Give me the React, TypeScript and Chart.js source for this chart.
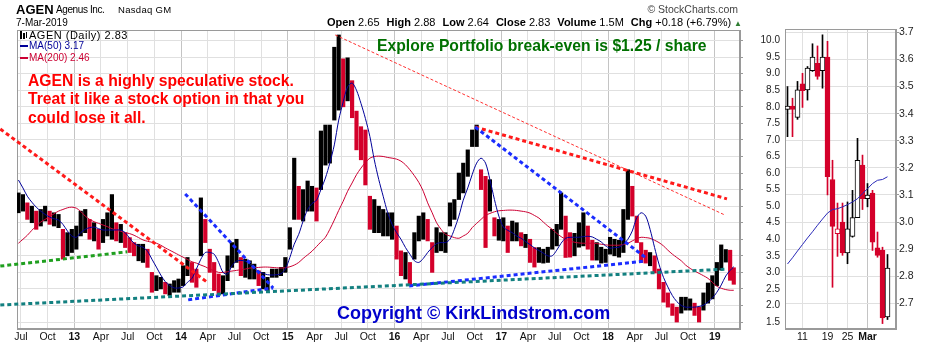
import React, { useEffect, useRef } from "react";
import { Chart, registerables } from "chart.js";
Chart.register(...registerables);

const FONT = "'Liberation Sans', Arial, sans-serif";
const RED = "#d4002a";
const BLACK = "#000000";
const NAVY = "#000099";
const CRIMSON = "#cc0033";

// ---------- main chart data (half-month ranges) ----------
const barDates = [
  "2012-06-23", "2012-07-08", "2012-07-23", "2012-08-08", "2012-08-23", "2012-09-08", "2012-09-23", "2012-10-08", "2012-10-23", "2012-11-08", "2012-11-23", "2012-12-08", "2012-12-23",
  "2013-01-08", "2013-01-23", "2013-02-08", "2013-02-23", "2013-03-08", "2013-03-23", "2013-04-08", "2013-04-23", "2013-05-08", "2013-05-23", "2013-06-08", "2013-06-23",
  "2013-07-08", "2013-07-23", "2013-08-08", "2013-08-23", "2013-09-08", "2013-09-23", "2013-10-08", "2013-10-23", "2013-11-08", "2013-11-23", "2013-12-08", "2013-12-23",
  "2014-01-08", "2014-01-23", "2014-02-08", "2014-02-23", "2014-03-08", "2014-03-23", "2014-04-08", "2014-04-23", "2014-05-08", "2014-05-23", "2014-06-08", "2014-06-23",
  "2014-07-08", "2014-07-23", "2014-08-08", "2014-08-23", "2014-09-08", "2014-09-23", "2014-10-08", "2014-10-23", "2014-11-08", "2014-11-23", "2014-12-08", "2014-12-23",
  "2015-01-08", "2015-01-23", "2015-02-08", "2015-02-23", "2015-03-08", "2015-03-23", "2015-04-08", "2015-04-23", "2015-05-08", "2015-05-23", "2015-06-08", "2015-06-23",
  "2015-07-08", "2015-07-23", "2015-08-08", "2015-08-23", "2015-09-08", "2015-09-23", "2015-10-08", "2015-10-23", "2015-11-08", "2015-11-23", "2015-12-08", "2015-12-23",
  "2016-01-08", "2016-01-23", "2016-02-08", "2016-02-23", "2016-03-08", "2016-03-23", "2016-04-08", "2016-04-23", "2016-05-08", "2016-05-23", "2016-06-08", "2016-06-23",
  "2016-07-08", "2016-07-23", "2016-08-08", "2016-08-23", "2016-09-08", "2016-09-23", "2016-10-08", "2016-10-23", "2016-11-08", "2016-11-23", "2016-12-08", "2016-12-23",
  "2017-01-08", "2017-01-23", "2017-02-08", "2017-02-23", "2017-03-08", "2017-03-23", "2017-04-08", "2017-04-23", "2017-05-08", "2017-05-23", "2017-06-08", "2017-06-23",
  "2017-07-08", "2017-07-23", "2017-08-08", "2017-08-23", "2017-09-08", "2017-09-23", "2017-10-08", "2017-10-23", "2017-11-08", "2017-11-23", "2017-12-08", "2017-12-23",
  "2018-01-08", "2018-01-23", "2018-02-08", "2018-02-23", "2018-03-08", "2018-03-23", "2018-04-08", "2018-04-23", "2018-05-08", "2018-05-23", "2018-06-08", "2018-06-23",
  "2018-07-08", "2018-07-23", "2018-08-08", "2018-08-23", "2018-09-08", "2018-09-23", "2018-10-08", "2018-10-23", "2018-11-08", "2018-11-23", "2018-12-08", "2018-12-23",
  "2019-01-08", "2019-01-23", "2019-02-08", "2019-02-23", "2019-03-05",
];

const barLows = [
  4.8, 4.85, 4.6, 4.5, 4.3, 4.4, 4.55, 4.45, 4.4, 4.35, 3.4, 3.5, 3.6,
  3.7, 4.1, 4.2, 4.0, 3.95, 3.7, 3.9, 4.1, 4.0, 3.95, 3.9, 3.75, 3.6, 3.5, 3.35, 3.3, 3.15, 2.4, 2.45, 2.5, 2.35, 2.3, 2.4, 2.4,
  2.6, 2.9, 2.7, 2.55, 3.5, 3.9, 3.0, 2.45, 2.35, 2.35, 2.75, 3.15, 3.3, 2.9, 2.85, 2.8, 2.8, 2.6, 2.5, 2.45, 2.85, 2.85, 2.9, 3.0,
  3.7, 4.6, 4.6, 4.55, 4.85, 4.85, 4.55, 5.5, 6.24, 6.3, 7.6, 7.9, 8.0, 8.18, 7.67, 6.7, 6.4, 5.64, 4.3, 4.2, 4.2, 4.1, 4.1, 4.0,
  3.4, 2.9, 2.8, 2.62, 3.4, 3.95, 4.0, 3.95, 3.0, 3.6, 3.65, 3.6, 4.4, 4.6, 5.2, 5.4, 5.9, 6.8, 6.8, 5.5, 3.75, 4.85, 4.1, 3.97,
  3.95, 3.6, 3.95, 3.95, 3.8, 3.75, 3.3, 3.16, 3.3, 3.28, 3.3, 3.7, 3.8, 4.3, 3.45, 3.46, 3.5, 3.76, 3.8, 3.7, 3.37, 3.37, 3.28, 3.3,
  3.55, 3.5, 3.46, 3.6, 4.6, 4.7, 3.9, 3.3, 3.28, 3.2, 2.98, 2.5, 2.1, 1.95, 1.7, 1.5, 1.77, 1.86, 1.86, 1.7, 1.5, 1.86, 2.07, 2.2,
  2.6, 3.07, 3.31, 2.76, 2.64,
];

const barHighs = [
  5.4, 5.35, 5.1, 5.0, 4.85, 4.9, 5.0, 4.85, 4.8, 4.75, 4.3, 4.2, 4.3,
  4.4, 4.85, 4.9, 4.6, 4.5, 4.3, 4.6, 4.8, 5.35, 4.5, 4.45, 4.2, 4.05, 3.9, 3.85, 3.85, 3.7, 3.0, 2.9, 2.85, 2.7, 2.65, 2.75, 2.8,
  3.2, 3.45, 3.3, 3.1, 5.25, 4.6, 3.7, 3.3, 2.95, 2.9, 3.5, 3.9, 4.0, 3.45, 3.4, 3.35, 3.25, 3.05, 3.0, 2.85, 3.1, 3.1, 3.15, 3.45,
  4.35, 6.45, 5.6, 5.5, 5.76, 5.6, 5.55, 7.27, 7.45, 7.45, 9.8, 10.17, 9.45, 9.48, 8.79, 7.87, 7.4, 7.3, 5.3, 5.2, 5.0, 4.9, 4.8, 4.8,
  4.4, 3.65, 3.6, 3.3, 4.2, 4.7, 4.8, 4.6, 3.9, 4.35, 4.2, 4.2, 5.1, 5.2, 6.0, 6.3, 6.7, 7.3, 7.45, 6.1, 5.9, 5.8, 4.65, 4.6,
  4.65, 4.4, 4.55, 4.5, 4.2, 4.15, 4.0, 3.75, 3.75, 3.7, 3.76, 4.3, 4.45, 5.4, 4.7, 4.2, 4.18, 4.5, 4.8, 4.4, 3.97, 3.9, 3.76, 3.7,
  4.06, 4.0, 3.97, 4.9, 6.1, 5.6, 4.7, 3.9, 3.67, 3.6, 3.5, 3.1, 2.7, 2.38, 2.05, 1.95, 2.25, 2.25, 2.2, 2.07, 1.95, 2.38, 2.68, 2.9,
  3.3, 3.83, 3.69, 3.67, 3.14,
];

const ma50 = [
  5.79, 5.55, 5.3, 5.12, 4.97, 4.85, 4.75, 4.67, 4.62, 4.58, 4.45, 4.25, 4.1,
  4.06, 4.2, 4.3, 4.35, 4.37, 4.32, 4.28, 4.28, 4.28, 4.28, 4.28, 4.2, 4.03, 3.88, 3.8, 3.76, 3.64, 3.4, 3.16, 2.92, 2.72, 2.6, 2.53, 2.53,
  2.56, 2.7, 2.82, 3.1, 3.4, 3.6, 3.6, 3.55, 3.3, 3.0, 2.95, 3.2, 3.34, 3.36, 3.34, 3.25, 3.12, 3.03, 2.97, 2.93, 2.92, 2.93, 2.96, 3.1,
  3.45, 3.85, 4.15, 4.55, 4.9, 5.08, 5.18, 5.5, 5.85, 6.3, 6.85, 7.6, 8.15, 8.6, 8.72, 8.5, 8.1, 7.65, 7.1, 6.4, 5.8, 5.3, 4.8, 4.45,
  4.2, 4.0, 3.75, 3.55, 3.35, 3.3, 3.42, 3.6, 3.75, 3.87, 3.9, 3.9, 4.0, 4.3, 4.7, 5.18, 5.55, 5.95, 6.3, 6.45, 6.3, 5.8, 5.2, 4.7,
  4.37, 4.27, 4.2, 4.1, 4.03, 3.93, 3.84, 3.74, 3.66, 3.58, 3.5, 3.5, 3.67, 3.88, 4.03, 4.06, 4.06, 4.06, 4.08, 4.09, 4.07, 4.0, 3.92, 3.8,
  3.73, 3.75, 3.76, 3.85, 4.0, 4.25, 4.65, 4.8, 4.7, 4.3, 3.75, 3.25, 2.85, 2.56, 2.3, 2.12, 2.0, 1.95, 1.95, 1.95, 1.97, 2.01, 2.1, 2.22,
  2.4, 2.62, 2.89, 3.06, 3.17,
];

const ma200 = [
  3.88, 4.0, 4.12, 4.27, 4.4, 4.52, 4.6, 4.68, 4.77, 4.85, 4.9, 4.95, 4.97,
  4.94, 4.84, 4.7, 4.6, 4.53, 4.48, 4.43, 4.38, 4.32, 4.28, 4.24, 4.2, 4.17, 4.12, 4.05, 3.98, 3.94, 3.91, 3.88, 3.82, 3.74, 3.67, 3.6, 3.53,
  3.46, 3.39, 3.32, 3.28, 3.22, 3.17, 3.1, 3.05, 3.0, 3.0, 3.02, 3.04, 3.06, 3.08, 3.1, 3.13, 3.14, 3.15, 3.16, 3.16, 3.15, 3.14, 3.13, 3.14,
  3.17, 3.22, 3.3, 3.42, 3.53, 3.64, 3.78, 3.92, 4.06, 4.3, 4.58, 4.87, 5.15, 5.45, 5.7, 5.95, 6.15, 6.32, 6.45, 6.5, 6.51, 6.5, 6.47, 6.45,
  6.42, 6.36, 6.25, 6.1, 5.92, 5.72, 5.45, 5.1, 4.8, 4.5, 4.3, 4.15, 4.1, 4.05, 4.03, 4.1, 4.18, 4.35, 4.48, 4.6, 4.72, 4.78, 4.83, 4.86,
  4.87, 4.88, 4.88, 4.87, 4.85, 4.83, 4.79, 4.72, 4.64, 4.52, 4.4, 4.3, 4.18, 4.08, 4.0, 3.95, 3.91, 3.89, 3.88, 3.88, 3.88, 3.87, 3.85, 3.83,
  3.82, 3.82, 3.82, 3.84, 3.88, 3.95, 4.02, 4.06, 4.05, 4.03, 3.97, 3.9, 3.8, 3.67, 3.55, 3.45, 3.35, 3.22, 3.12, 3.04, 2.97, 2.9, 2.82, 2.7,
  2.58, 2.52, 2.48, 2.46, 2.46,
];

// x-axis ticks (quarterly)
const xTickDates = [
  "2012-07-01", "2012-10-01",
  "2013-01-01", "2013-04-01", "2013-07-01", "2013-10-01",
  "2014-01-01", "2014-04-01", "2014-07-01", "2014-10-01",
  "2015-01-01", "2015-04-01", "2015-07-01", "2015-10-01",
  "2016-01-01", "2016-04-01", "2016-07-01", "2016-10-01",
  "2017-01-01", "2017-04-01", "2017-07-01", "2017-10-01",
  "2018-01-01", "2018-04-01", "2018-07-01", "2018-10-01",
  "2019-01-01",
];
const xTickLabels = [
  "Jul", "Oct",
  "13", "Apr", "Jul", "Oct",
  "14", "Apr", "Jul", "Oct",
  "15", "Apr", "Jul", "Oct",
  "16", "Apr", "Jul", "Oct",
  "17", "Apr", "Jul", "Oct",
  "18", "Apr", "Jul", "Oct",
  "19",
];
const yTicks = [1.5, 2.0, 2.5, 3.0, 3.5, 4.0, 4.5, 5.0, 5.5, 6.0, 6.5, 7.0, 7.5, 8.0, 8.5, 9.0, 9.5, 10.0];

// hand-drawn trend lines (decimal year, price)
const trendNames = ["red1", "green", "teal", "blue1", "blue2", "blue3", "blue4", "red2", "red3"];
const trendX1 = [2012.307, 2012.307, 2012.307, 2014.039, 2014.067, 2016.137, 2016.755, 2016.755, 2015.444];
const trendY1 = [7.33, 3.19, 2.015, 5.37, 2.17, 2.59, 7.39, 7.39, 10.17];
const trendX2 = [2014.255, 2013.496, 2019.114, 2014.863, 2014.863, 2018.346, 2018.346, 2019.114, 2019.096];
const trendY2 = [2.68, 3.62, 3.10, 2.53, 2.53, 3.34, 3.46, 5.22, 4.73];

// ---------- right panel (daily) ----------
const dayLabels = ["Feb 6", "Feb 7", "Feb 8", "Feb 11", "Feb 12", "Feb 13", "Feb 14", "Feb 15", "Feb 19", "Feb 20", "Feb 21", "Feb 22", "Feb 25", "Feb 26", "Feb 27", "Feb 28", "Mar 1", "Mar 4", "Mar 5", "Mar 6", "Mar 7"];
const dayOpen = [3.416, 3.428, 3.386, 3.51, 3.488, 3.559, 3.586, 3.559, 3.609, 3.157, 2.957, 3.0, 2.886, 2.947, 3.016, 3.21, 3.086, 3.107, 2.905, 2.895, 2.65];
const dayHigh = [3.5, 3.457, 3.519, 3.549, 3.574, 3.658, 3.65, 3.691, 3.667, 3.228, 3.07, 3.07, 3.074, 3.117, 3.309, 3.247, 3.142, 3.117, 2.963, 2.907, 2.88];
const dayLow = [3.315, 3.315, 3.379, 3.423, 3.45, 3.556, 3.527, 3.494, 3.1, 2.759, 2.873, 2.877, 2.846, 2.944, 3.016, 3.046, 3.056, 2.895, 2.87, 2.625, 2.64];
const dayClose = [3.428, 3.416, 3.488, 3.485, 3.568, 3.609, 3.537, 3.609, 3.167, 2.984, 2.975, 2.886, 2.975, 3.016, 3.228, 3.086, 3.099, 2.926, 2.877, 2.646, 2.83];
const dayMa50 = [2.845, 2.868, 2.893, 2.917, 2.941, 2.964, 2.988, 3.011, 3.033, 3.046, 3.049, 3.056, 3.064, 3.074, 3.086, 3.105, 3.123, 3.142, 3.154, 3.157, 3.167];
const dayTickIdx = [3, 8, 12, 16];
const dayTickLabels = ["11", "19", "25", "Mar"];
const dayYTicks = [2.7, 2.8, 2.9, 3.0, 3.1, 3.2, 3.3, 3.4, 3.5, 3.6, 3.7];

function toT(s: string) {
  const [y, m, d] = s.split("-").map(Number);
  return y + (m - 1) / 12 + (d - 1) / 365;
}

const framePlugin = {
  id: "frame",
  beforeDatasetsDraw(chart: any) {
    const { ctx, chartArea: a } = chart;
    ctx.save();
    ctx.strokeStyle = "#9a9a9a";
    ctx.lineWidth = 1;
    ctx.strokeRect(Math.round(a.left) + 0.5, Math.round(a.top) + 0.5, Math.round(a.right - a.left) - 1, Math.round(a.bottom - a.top) - 1);
    ctx.restore();
  },
};

function mainConfig(): any {
  const bars = barDates.map((d, i) => ({ x: toT(d), y: [barLows[i], barHighs[i]] }));
  const colors = barLows.map((l, i) => {
    if (i === 0) return BLACK;
    const mid = (l + barHighs[i]) / 2;
    const prev = (barLows[i - 1] + barHighs[i - 1]) / 2;
    return mid < prev - 0.12 ? RED : BLACK;
  });
  const trendStyle: any = {
    red1: { c: "#ff1a1a", w: 3, d: [4, 3] },
    green: { c: "#1f9f1f", w: 3, d: [4, 3] },
    teal: { c: "#138080", w: 3, d: [4, 3] },
    blue1: { c: "#1a2cff", w: 3, d: [4, 3] },
    blue2: { c: "#1a2cff", w: 3, d: [4, 3] },
    blue3: { c: "#1a2cff", w: 3, d: [4, 3] },
    blue4: { c: "#1a2cff", w: 3, d: [4, 3] },
    red2: { c: "#ff1a1a", w: 3, d: [4, 3] },
    red3: { c: "#ff3030", w: 1, d: [3, 2] },
  };
  const trends = trendNames.map((n, i) => ({
    type: "line",
    data: [{ x: trendX1[i], y: trendY1[i] }, { x: trendX2[i], y: trendY2[i] }],
    borderColor: trendStyle[n].c,
    borderWidth: trendStyle[n].w,
    borderDash: trendStyle[n].d,
    pointRadius: 0,
    clip: false,
    order: 0,
  }));
  const xTickVals = xTickDates.map(toT);
  const isYear = (i: number) => /^\d+$/.test(xTickLabels[i] || "");
  return {
    type: "bar",
    data: {
      datasets: [
        { type: "bar", data: bars, backgroundColor: colors, barThickness: 3.5, borderWidth: 0, order: 3 },
        { type: "line", data: barDates.map((d, i) => ({ x: toT(d), y: ma200[i] })), borderColor: CRIMSON, borderWidth: 1, pointRadius: 0, tension: 0.3, order: 2 },
        { type: "line", data: barDates.map((d, i) => ({ x: toT(d), y: ma50[i] })), borderColor: NAVY, borderWidth: 1, pointRadius: 0, tension: 0.3, order: 1 },
        ...trends,
      ],
    },
    options: {
      responsive: false,
      animation: false,
      events: [],
      layout: { padding: { left: 17, top: 30, right: 0, bottom: 0 } },
      plugins: { legend: { display: false }, tooltip: { enabled: false } },
      scales: {
        x: {
          type: "linear",
          offset: false,
          min: 2012.4635,
          max: 2019.236,
          afterBuildTicks: (s: any) => { s.ticks = xTickVals.map((v) => ({ value: v })); },
          afterFit: (s: any) => { s.height = 16; },
          ticks: {
            autoSkip: false,
            maxRotation: 0,
            padding: 2,
            color: "#111",
            callback: (_v: any, i: number) => xTickLabels[i],
            font: (ctx: any) => ({ family: FONT, size: 10.5, weight: isYear(ctx.index) ? "bold" : "normal" }),
          },
          grid: { offset: false, drawTicks: false, color: (ctx: any) => (isYear(ctx.index) ? "#c4c4c4" : "#e0e0e0") },
          border: { color: "#9a9a9a" },
        },
        y: {
          type: "linear",
          position: "right",
          min: 1.29,
          max: 10.32,
          afterBuildTicks: (s: any) => { s.ticks = yTicks.map((v) => ({ value: v })); },
          afterFit: (s: any) => { s.width = 40; },
          ticks: {
            autoSkip: false,
            padding: 0,
            crossAlign: "far",
            color: "#222",
            font: { family: FONT, size: 10 },
            callback: (v: any) => Number(v).toFixed(1),
          },
          grid: { color: "#e0e0e0", tickLength: 3, tickColor: "#9a9a9a" },
          border: { color: "#9a9a9a" },
        },
      },
    },
    plugins: [framePlugin],
  };
}

function sideConfig(): any {
  const col = dayClose.map((c, i) => (c < (i === 0 ? dayOpen[0] : dayClose[i - 1]) ? RED : BLACK));
  const filled = dayClose.map((c, i) => c < dayOpen[i]);
  return {
    type: "bar",
    data: {
      labels: dayLabels,
      datasets: [
        {
          type: "line",
          data: dayMa50.map((v, i) => ({ x: i, y: v })),
          borderColor: "#2a2ab8",
          borderWidth: 1,
          pointRadius: 0,
          order: 0,
        },
        {
          type: "bar",
          data: dayOpen.map((o, i) => ({ x: i, y: [Math.min(o, dayClose[i]), Math.max(o, dayClose[i])] })),
          backgroundColor: col.map((c, i) => (filled[i] ? c : "#ffffff")),
          borderColor: col,
          borderWidth: 1,
          borderSkipped: false,
          barThickness: 5,
          grouped: false,
          order: 1,
        },
        {
          type: "bar",
          data: dayLow.map((l, i) => ({ x: i, y: [l, dayHigh[i]] })),
          backgroundColor: col,
          borderWidth: 0,
          barThickness: 1,
          grouped: false,
          order: 2,
        },
      ],
    },
    options: {
      responsive: false,
      animation: false,
      events: [],
      layout: { padding: { left: 5, top: 29, right: 0, bottom: 0 } },
      plugins: { legend: { display: false }, tooltip: { enabled: false } },
      scales: {
        x: {
          type: "linear",
          offset: false,
          min: -0.5,
          max: 21.7,
          afterBuildTicks: (s: any) => { s.ticks = dayTickIdx.map((v) => ({ value: v })); },
          afterFit: (s: any) => { s.height = 16; },
          ticks: {
            autoSkip: false,
            maxRotation: 0,
            padding: 2,
            color: "#111",
            callback: (_v: any, i: number) => dayTickLabels[i],
            font: (ctx: any) => ({ family: FONT, size: 10.5, weight: dayTickLabels[ctx.index] === "Mar" ? "bold" : "normal" }),
          },
          grid: { offset: false, drawTicks: false, color: (ctx: any) => (dayTickLabels[ctx.index] === "Mar" ? "#c4c4c4" : "#e0e0e0") },
          border: { color: "#9a9a9a" },
        },
        y: {
          type: "linear",
          position: "right",
          min: 2.605,
          max: 3.7125,
          afterBuildTicks: (s: any) => { s.ticks = dayYTicks.map((v) => ({ value: v })); },
          afterFit: (s: any) => { s.width = 34; },
          ticks: {
            autoSkip: false,
            padding: 0,
            color: "#222",
            font: { family: FONT, size: 10.5 },
            callback: (v: any) => Number(v).toFixed(1),
          },
          grid: { color: "#e0e0e0", tickLength: 3, tickColor: "#9a9a9a" },
          border: { color: "#9a9a9a" },
        },
      },
    },
    plugins: [framePlugin],
  };
}

function T(props: any) {
  const { x, y, s, w = 400, c = "#000", f = FONT, right = false, ls = 0, children } = props;
  const style: any = {
    position: "absolute",
    top: y - s / 2,
    fontSize: s,
    lineHeight: s + "px",
    fontWeight: w,
    color: c,
    fontFamily: f,
    whiteSpace: "nowrap",
    letterSpacing: ls,
  };
  if (right) style.right = 930 - x;
  else style.left = x;
  return <div style={style}>{children}</div>;
}

export default function App() {
  const mainRef = useRef<HTMLCanvasElement>(null);
  const sideRef = useRef<HTMLCanvasElement>(null);
  useEffect(() => {
    const main = new Chart(mainRef.current as HTMLCanvasElement, mainConfig());
    const side = new Chart(sideRef.current as HTMLCanvasElement, sideConfig());
    return () => {
      main.destroy();
      side.destroy();
    };
  }, []);

  const gap = { marginLeft: 7 };
  return (
    <div style={{ position: "fixed", left: 0, top: 0, width: 930, height: 345, background: "#fff", overflow: "hidden", fontFamily: FONT }}>
      <canvas ref={mainRef} width={780} height={345} style={{ position: "absolute", left: 0, top: 0 }} />
      <canvas ref={sideRef} width={150} height={345} style={{ position: "absolute", left: 780, top: 0 }} />

      {/* header */}
      <T x={16} y={9.2} s={13} w={700}>AGEN</T>
      <T x={56} y={9.7} s={10} ls={-0.4}>Agenus Inc.</T>
      <T x={118} y={10} s={9.5} ls={0.3}>Nasdaq GM</T>
      <T x={16} y={23} s={10}>7-Mar-2019</T>
      <T x={738} y={9.2} s={10.5} c="#444" right>© StockCharts.com</T>
      <T x={742} y={22.5} s={11} right>
        <b>Open</b> 2.65<span style={gap}><b>High</b> 2.88</span><span style={gap}><b>Low</b> 2.64</span>
        <span style={gap}><b>Close</b> 2.83</span><span style={gap}><b>Volume</b> 1.5M</span>
        <span style={gap}><b>Chg</b> +0.18 (+6.79%)</span>
        <span style={{ marginLeft: 3, color: "#2e7d32", fontSize: 8 }}>▲</span>
      </T>

      {/* legend in plot */}
      <div style={{ position: "absolute", left: 20, top: 31, width: 2, height: 8, background: "#000" }} />
      <div style={{ position: "absolute", left: 23, top: 33, width: 2, height: 6, background: "#000" }} />
      <div style={{ position: "absolute", left: 26, top: 32, width: 1, height: 6, background: "#000" }} />
      <T x={29} y={35} s={11} ls={0.5}>AGEN (Daily) 2.83</T>
      <div style={{ position: "absolute", left: 20, top: 45, width: 8, height: 2, background: NAVY }} />
      <T x={29} y={46} s={10} c={NAVY}>MA(50) 3.17</T>
      <div style={{ position: "absolute", left: 20, top: 56.5, width: 8, height: 2, background: CRIMSON }} />
      <T x={29} y={57.5} s={10} c={CRIMSON}>MA(200) 2.46</T>

      {/* annotations */}
      <T x={28} y={81} s={15.7} w={700} c="#ff0000">AGEN is a highly speculative stock.</T>
      <T x={28} y={99.2} s={15.7} w={700} c="#ff0000">Treat it like a stock option in that you</T>
      <T x={28} y={117.4} s={15.7} w={700} c="#ff0000">could lose it all.</T>
      <T x={377} y={46.2} s={15.7} w={700} c="#007000">Explore Portfolio break-even is $1.25 / share</T>
      <T x={337} y={312.7} s={18} w={700} c="#0000cc">Copyright © KirkLindstrom.com</T>
    </div>
  );
}
